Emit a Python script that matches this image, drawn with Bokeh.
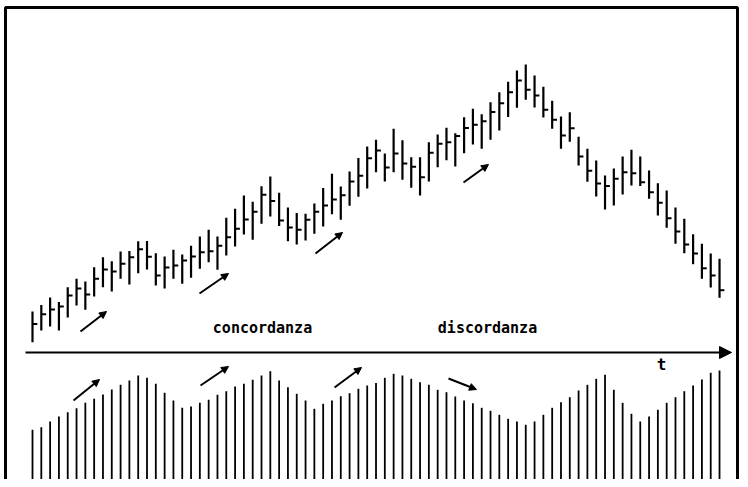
from bokeh.plotting import figure
from bokeh.models import Range1d, Arrow, NormalHead, Label, ColumnDataSource
from bokeh.embed import file_html
from bokeh.resources import INLINE

# ---- data ----
high = [49, 55.5, 63, 58.5, 73.3, 81.7, 79, 93.3, 103.3, 99.3,
        109, 109.5, 119.3, 119.5, 107.3, 104, 110.7, 106, 114.7, 124,
        130.7, 124, 142.7, 151.7, 165, 158.8, 174.2, 184, 167.8, 153,
        147.5, 146.7, 157, 172.5, 186.7, 174, 189, 202.5, 214, 220.7,
        207, 231.7, 220.3, 203.3, 203.3, 218.3, 226, 232.7, 227.3, 243.3,
        251.7, 246.3, 258.3, 268.3, 278.7, 290, 296, 285, 273.7, 259.7,
        244, 248.3, 223.7, 211.7, 200, 185, 192, 204, 210.7, 204,
        190, 177.3, 170, 153, 141.7, 126.3, 116.7, 107, 101.7]
low = [18.3, 30, 34, 30, 43, 55, 50.7, 64, 73.3, 69,
       81.7, 76, 87.3, 91, 75, 72, 81.7, 76.7, 82.7, 91.7,
       98.3, 90.7, 105, 114, 126, 120.7, 136.7, 144, 134.5, 119.3,
       116, 120, 126.7, 134, 146.3, 140.7, 154.7, 163.7, 172, 188.3,
       179, 188.3, 180.7, 172.7, 165, 179, 193.3, 200.3, 194, 207.2,
       216, 211.7, 220.7, 230, 243.5, 252.7, 260.7, 253, 243, 231.7,
       211.7, 218.8, 195, 178.7, 164, 151, 155, 166, 175, 174.5,
       161.7, 145, 132.7, 116.7, 107.3, 96.3, 81.7, 73, 62.7]
close = [36.5, 46.2, 51, 54, 65, 72, 66, 81.7, 91, 89,
         96.7, 103.3, 111.2, 103.7, 85, 93, 95, 100, 104, 108.3,
         109.3, 114.7, 123.3, 131.7, 141, 148.7, 165.7, 159.5, 140, 133,
         130.7, 140.7, 148.8, 155, 161, 165.3, 179, 184.8, 202.3, 210,
         193, 207, 197, 193.7, 183.3, 207.8, 216.7, 218.3, 224.5, 232.5,
         235.8, 239.3, 248.5, 257.3, 268.3, 280, 270.7, 265, 250.7, 240.7,
         225, 232.2, 204, 189.7, 177, 174.4, 181.7, 188.3, 187.3, 178.3,
         168.3, 157.8, 142.2, 129, 116, 107, 92.2, 85, 70.3]
volume = [70.7, 73.3, 79, 84, 88.3, 92.3, 97.7, 101.7, 106, 111,
          115.7, 120, 125, 122.7, 116.7, 107.7, 100, 92.7, 94, 97.7,
          100.7, 105.7, 109.3, 114, 116.7, 120.7, 125, 129.3, 120, 113.3,
          106.7, 100, 91.7, 96.7, 100, 104.3, 107.3, 111.7, 115, 117.5,
          122.7, 126.7, 125, 121.7, 118.3, 115.7, 110.7, 108.3, 104, 100,
          97.3, 92.7, 89.7, 85.7, 81.7, 79, 75.7, 79, 85.7, 92.7,
          98.3, 103.3, 110, 115.7, 121.7, 125.7, 110.7, 97.7, 86.7, 79,
          84, 90.7, 97.7, 103.3, 109.3, 115, 121, 127.7, 130]
phase_labels = ["concordanza", "discordanza"]
time_label = "t"

n = len(high)
idx = list(range(n))

# ---- geometry helpers for decorations (canvas pixels) ----
W, H = 740, 479
STEP = 8.808
def sx(px):
    return (px - 32) / STEP
def sy(py):
    return 360 - py
def sv(py):
    return 500 - py

p = figure(width=W, height=H,
           x_range=Range1d(sx(0), sx(W)),
           y_range=Range1d(sy(H), sy(0)),
           output_backend="svg", toolbar_location=None,
           x_axis_location=None, y_axis_location=None,
           min_border=0, outline_line_color=None,
           background_fill_color="white", border_fill_color="white")
p.extra_y_ranges = {"vol": Range1d(sv(H), sv(0))}
p.grid.visible = False

# frame (left, top, right)
p.line([sx(5), sx(5), sx(737), sx(737)],
       [sy(495), sy(7), sy(7), sy(495)],
       line_color="black", line_width=3)

# price bars
src = ColumnDataSource(dict(x=idx, high=high, low=low, close=close,
                            xt=[i + 0.55 for i in idx], vol=volume,
                            zero=[0] * n))
p.segment(x0="x", y0="low", x1="x", y1="high", source=src,
          line_color="black", line_width=2.2)
p.segment(x0="x", y0="close", x1="xt", y1="close", source=src,
          line_color="black", line_width=2)

# volume bars
p.segment(x0="x", y0="zero", x1="x", y1="vol", source=src,
          y_range_name="vol", line_color="black", line_width=1.8)

# time axis arrow
p.add_layout(Arrow(end=NormalHead(size=12, fill_color="black", line_color="black"),
                   x_start=sx(25), y_start=sy(352), x_end=sx(731), y_end=sy(352),
                   line_color="black", line_width=2))

# small trend arrows (pixel tail -> head)
arrows = [((80, 331), (106, 311)), ((199, 293), (228, 273)),
          ((315, 253), (342, 232)), ((463, 182), (488, 164)),
          ((73, 400), (99, 379)), ((200, 385), (228, 366)),
          ((334, 387), (361, 367)), ((448, 378), (476, 389))]
for (x0, y0), (x1, y1) in arrows:
    p.add_layout(Arrow(end=NormalHead(size=7, fill_color="black", line_color="black"),
                       x_start=sx(x0), y_start=sy(y0), x_end=sx(x1), y_end=sy(y1),
                       line_color="black", line_width=2))

for txt, cx in zip(phase_labels, [262, 487]):
    p.add_layout(Label(x=sx(cx), y=sy(327), text=txt, text_align="center",
                       text_baseline="middle", text_font="DejaVu Sans Mono",
                       text_font_style="bold", text_font_size="15px",
                       text_color="black"))
p.add_layout(Label(x=sx(661), y=sy(364), text=time_label, text_align="center",
                   text_baseline="middle", text_font="DejaVu Sans Mono",
                   text_font_style="bold", text_font_size="16px",
                   text_color="black"))

open("out.html", "w").write(file_html(p, INLINE))
